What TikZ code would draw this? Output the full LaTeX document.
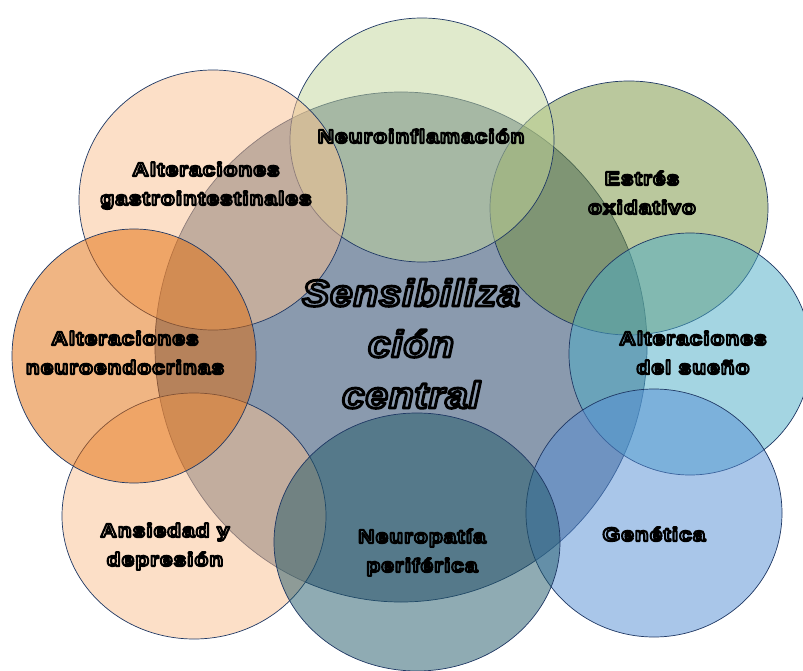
\documentclass[tikz,border=0pt]{standalone}
\usepackage{fontspec}
\setmainfont{Liberation Sans}
\newfontfamily\lblfont{Liberation Sans}[FakeStretch=1.2,LetterSpace=5]
\newfontfamily\bigfont{Liberation Sans}[FakeStretch=1.1,LetterSpace=2]
\definecolor{edge}{HTML}{1F3864}
\definecolor{cNeuroinf}{HTML}{C3D69B}
\definecolor{cEstres}{HTML}{76923C}
\definecolor{cSueno}{HTML}{4BACC6}
\definecolor{cGenetica}{HTML}{558ED5}
\definecolor{cNeuropat}{HTML}{215968}
\definecolor{cPeach}{HTML}{FAC090}
\definecolor{cOrange}{HTML}{E36C09}
\definecolor{cCentral}{HTML}{17375E}
\tikzset{
  blob/.style={draw=edge, line width=0.7pt, fill opacity=0.5},
  lbl/.style={font=\lblfont\fontsize{19}{29}\selectfont\bfseries, align=center, anchor=base, inner sep=0pt, text=black},
  bigl/.style={font=\bigfont\fontsize{37}{51}\selectfont\bfseries\itshape, align=center, anchor=base, inner sep=0pt, text=black},
}
\newcommand{\stk}[1]{\special{pdf:literal direct 1 Tr 2.1 w 0 G 1 j}#1\special{pdf:literal direct 0 Tr}}
\newcommand{\stkb}[1]{\special{pdf:literal direct 1 Tr 2.9 w 0 G 1 j}#1\special{pdf:literal direct 0 Tr}}
\begin{document}
\begin{tikzpicture}[x=1pt,y=-1pt]
\useasboundingbox (0,0) rectangle (803,671);
\fill[white] (0,0) rectangle (803,671);
% central
\path[blob, fill=cCentral] (401,347) ellipse [x radius=246, y radius=255];
% outer ellipses
\path[blob, fill=cEstres] (629,208) ellipse [x radius=139, y radius=127];
\path[blob, fill=cNeuroinf] (422,140) ellipse [x radius=132, y radius=122];
\path[blob, fill=cPeach] (213,200) ellipse [x radius=134, y radius=130];
\path[blob, fill=cPeach] (194,516) ellipse [x radius=132, y radius=123];
\path[blob, fill=cOrange] (134,356) ellipse [x radius=122, y radius=127];
\path[blob, fill=cSueno] (690,354) ellipse [x radius=121, y radius=121];
\path[blob, fill=cGenetica] (654,513) ellipse [x radius=128, y radius=124];
\path[blob, fill=cNeuropat] (417,542) ellipse [x radius=143, y radius=129];
% labels
\node[lbl] (tNeuroinf) at (421,143) {\stk{Neuroinflamación}};
\node[lbl] (tGastro) at (206,205) {\stk{Alteraciones}\\\stk{gastrointestinales}};
\node[lbl] (tEstres) at (642,214) {\stk{Estrés}\\\stk{oxidativo}};
\node[lbl] (tSueno) at (693,374) {\stk{Alteraciones}\\\stk{del sueño}};
\node[lbl] (tNeuroendo) at (125,374) {\stk{Alteraciones}\\\stk{neuroendocrinas}};
\node[lbl] (tAnsiedad) at (165,566) {\stk{Ansiedad y}\\\stk{depresión}};
\node[lbl] (tNeuropat) at (422,572) {\stk{Neuropatía}\\\stk{periférica}};
\node[lbl] (tGenetica) at (654,541) {\stk{Genética}};
\node[bigl] (tCentral) at (411,408) {\stkb{Sensibiliza}\\\stkb{ción}\\\stkb{central}};
\end{tikzpicture}
\end{document}
